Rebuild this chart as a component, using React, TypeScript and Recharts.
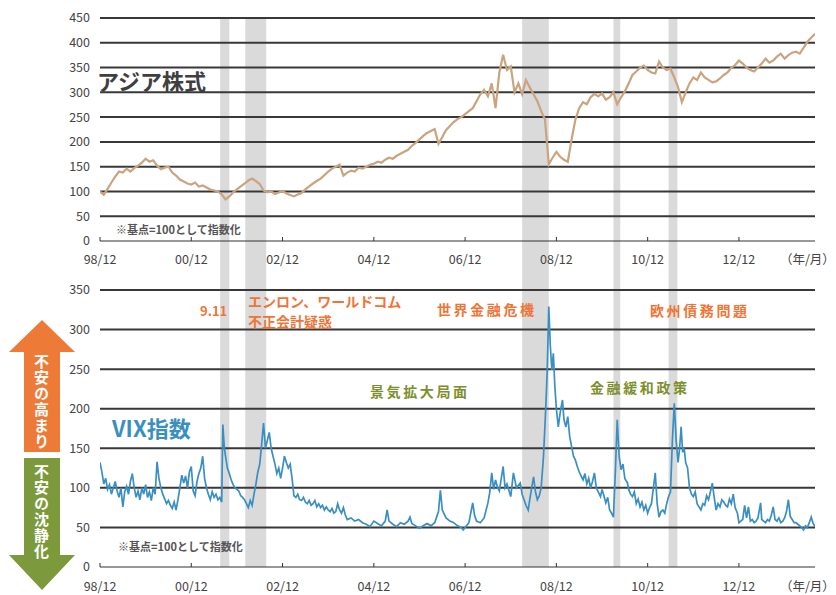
import React from 'react';
import { LineChart, Line, XAxis, YAxis, ReferenceArea, ReferenceLine } from 'recharts';

// months since 1998/12
const xTicks = [0, 24, 48, 72, 96, 120, 144, 168, 186];
const topYTicks = [0, 50, 100, 150, 200, 250, 300, 350, 400, 450];
const bottomYTicks = [0, 50, 100, 150, 200, 250, 300, 350];

// shaded event periods [start month, end month]
const eventBands: [number, number][] = [
  [31.6, 34],
  [38.2, 43.7],
  [111, 118],
  [135, 136.8],
  [149.5, 151.8],
];

// Asia equities, monthly from 1998/12 (index = month)
const asiaValues = [
  100, 93, 105, 118, 130, 140, 138, 146, 140, 147, 152, 158, 166, 160, 163, 152, 145, 148, 150, 138,
  132, 124, 120, 116, 114, 118, 110, 112, 108, 104, 102, 100, 94, 84, 90, 98, 104, 110, 116, 122,
  126, 121, 115, 102, 98, 100, 95, 98, 101, 96, 93, 90, 94, 97, 104, 110, 116, 121, 126, 133,
  140, 146, 150, 154, 132, 138, 142, 140, 148, 146, 150, 154, 156, 160, 158, 164, 168, 166, 172, 176,
  180, 184, 192, 198, 205, 212, 218, 222, 226, 196, 210, 224, 232, 240, 246, 250, 256, 262, 268, 282,
  296, 305, 292, 318, 268, 340, 376, 345, 352, 300, 318, 296, 325, 310, 296, 282, 262, 245, 155, 168,
  180, 170, 164, 160, 205, 245, 268, 280, 276, 290, 297, 292, 298, 285, 290, 300, 276, 290, 302, 318,
  335, 342, 350, 354, 345, 340, 338, 362, 350, 345, 348, 330, 310, 280, 300, 318, 330, 325, 340, 330,
  325, 320, 322, 328, 335, 340, 350, 355, 364, 358, 350, 345, 342, 350, 358, 368, 360, 364, 372, 378,
  368, 375, 380, 382, 378, 390, 402, 410, 418,
];

// VIX index (base = 100): [month since 1998/12, value]
const vixPoints: [number, number][] = [
  [0, 132], [0.5, 120], [1, 105], [1.5, 112], [2, 98], [2.5, 104], [3, 92], [3.5, 100], [4, 108], [4.5, 96],
  [5, 88], [5.5, 100], [6, 76], [6.5, 95], [7, 102], [7.5, 92], [8, 108], [8.5, 118], [9, 100], [9.5, 88],
  [10, 96], [10.5, 85], [11, 100], [11.5, 92], [12, 104], [12.5, 88], [13, 95], [13.5, 84], [14, 100], [14.5, 92],
  [15, 133], [15.5, 112], [16, 100], [16.5, 92], [17, 86], [17.5, 80], [18, 84], [18.5, 78], [19, 74], [19.5, 82],
  [20, 72], [20.5, 85], [21, 100], [21.5, 116], [22, 106], [22.5, 115], [23, 100], [23.5, 120], [24, 127], [24.5, 96],
  [25, 90], [25.5, 108], [26, 118], [26.5, 125], [27, 140], [27.5, 112], [28, 100], [28.5, 92], [29, 85], [29.5, 95],
  [30, 88], [30.5, 92], [31, 85], [31.5, 88], [32, 82], [32.3, 180], [32.7, 150], [33, 140], [33.5, 125], [34, 118],
  [34.5, 110], [35, 104], [35.5, 100], [36, 98], [36.5, 96], [37, 90], [37.5, 88], [38, 85], [38.5, 80], [39, 75],
  [39.5, 84], [40, 78], [40.5, 92], [41, 105], [41.5, 120], [42, 130], [42.5, 155], [43, 182], [43.5, 150], [44, 160],
  [44.5, 170], [45, 150], [45.5, 140], [46, 130], [46.5, 118], [47, 125], [47.5, 112], [48, 125], [48.5, 140], [49, 132],
  [49.5, 125], [50, 130], [50.5, 112], [51, 90], [51.5, 88], [52, 92], [52.5, 85], [53, 84], [53.5, 88], [54, 82],
  [54.5, 80], [55, 84], [55.5, 78], [56, 80], [56.5, 84], [57, 76], [57.5, 80], [58, 75], [58.5, 78], [59, 72],
  [59.5, 76], [60, 72], [60.5, 70], [61, 74], [61.5, 68], [62, 70], [62.5, 80], [63, 72], [63.5, 68], [64, 75],
  [64.5, 66], [65, 60], [66, 62], [67, 58], [68, 60], [69, 56], [70, 54], [71, 51], [72, 58], [73, 55],
  [74, 52], [75, 58], [75.5, 72], [76, 58], [77, 54], [78, 51], [79, 56], [80, 54], [81, 58], [81.5, 63],
  [82, 55], [83, 52], [84, 49], [85, 52], [86, 55], [87, 52], [88, 56], [88.5, 63], [89, 70], [89.5, 97],
  [90, 72], [91, 62], [92, 58], [93, 56], [94, 52], [95, 50], [95.5, 47], [96, 50], [97, 56], [98, 81],
  [98.5, 65], [99, 58], [100, 56], [101, 62], [102, 81], [102.5, 95], [103, 119], [103.5, 98], [104, 110], [104.5, 101],
  [105, 96], [106, 127], [106.5, 100], [107, 105], [108, 89], [108.7, 119], [109.5, 100], [110.5, 106], [111, 92], [111.5, 85],
  [112, 78], [112.6, 72], [113, 85], [113.5, 100], [114, 114], [114.5, 95], [115, 85], [115.5, 90], [116, 100], [116.6, 139],
  [117.2, 200], [117.6, 249], [118, 329], [118.4, 280], [118.8, 249], [119.2, 270], [119.6, 228], [120, 200], [120.5, 177], [121, 195],
  [121.6, 211], [122, 186], [122.5, 177], [123, 190], [123.5, 165], [124, 152], [124.5, 140], [125, 135], [125.5, 127], [126, 120],
  [126.5, 115], [127, 110], [127.5, 118], [128, 105], [128.5, 112], [129, 100], [129.5, 108], [130, 119], [130.5, 100], [131, 95],
  [131.6, 89], [132, 98], [132.5, 90], [133, 81], [133.5, 88], [134, 72], [134.5, 68], [135, 63], [135.5, 120], [136, 186],
  [136.5, 140], [137, 123], [137.5, 130], [138, 112], [138.7, 106], [139, 98], [139.5, 92], [140, 89], [140.5, 95], [141, 80],
  [141.5, 86], [142, 76], [142.5, 82], [143, 72], [143.5, 78], [144, 68], [144.5, 75], [145, 80], [145.5, 100], [146, 119],
  [146.5, 80], [147, 63], [147.5, 70], [148, 72], [148.5, 68], [149, 80], [149.5, 89], [150, 95], [150.5, 160], [151, 207],
  [151.5, 160], [152, 132], [152.4, 150], [152.8, 177], [153.2, 145], [153.6, 150], [154, 132], [154.5, 125], [155, 100], [155.5, 92],
  [156, 89], [156.5, 95], [157, 80], [157.5, 76], [158, 72], [158.5, 80], [159, 78], [159.5, 90], [160, 85], [160.5, 95],
  [161, 106], [161.5, 88], [162, 72], [162.5, 80], [163, 76], [163.5, 85], [164, 82], [164.5, 78], [165, 76], [165.5, 86],
  [166, 80], [166.5, 92], [167, 75], [167.6, 68], [168, 56], [168.5, 58], [169, 60], [169.5, 78], [170, 62], [170.5, 76],
  [171, 58], [171.5, 60], [172, 56], [172.5, 58], [173, 62], [173.7, 81], [174, 60], [174.5, 58], [175, 56], [175.5, 60],
  [176, 58], [176.5, 65], [177, 76], [177.5, 60], [178, 58], [178.5, 62], [179, 56], [179.5, 58], [180, 62], [180.5, 70],
  [181, 85], [181.5, 64], [182, 60], [182.5, 56], [183, 56], [183.5, 54], [184, 52], [184.5, 50], [185, 47], [185.5, 52],
  [186, 50], [186.5, 56], [187, 63], [187.5, 55], [188, 51],
];

const asiaData = asiaValues.map((v, i) => ({ m: i, v }));
const vixData = vixPoints.map(([m, v]) => ({ m, v }));

const FONT = '"Noto Sans CJK JP", "Noto Sans", sans-serif';
const GRID = '#383838';
const BAND = '#dadada';

const fmtTick = (m: number) => {
  if (m === 186) return '（年/月）';
  const y = (98 + Math.floor(m / 12)) % 100;
  return `${String(y).padStart(2, '0')}/12`;
};

const makeXTick = (margin: number) => (props: any) => {
  const { x, y, payload } = props;
  const isUnit = payload.value === 186;
  return (
    <g>
      {!isUnit && (
        <line x1={x} x2={x} y1={y - margin} y2={y - margin - 4} stroke="#333" strokeWidth={1} />
      )}
      <text x={x} y={y} dy="0.71em" textAnchor="middle" fontSize={12.5} fill="#444" fontFamily={FONT}>
        {fmtTick(payload.value)}
      </text>
    </g>
  );
};

const yTickStyle = { fontSize: 12.5, fill: '#444', fontFamily: FONT };

const abs = (left: number, top: number, extra: React.CSSProperties = {}): React.CSSProperties => ({
  position: 'absolute',
  left,
  top,
  whiteSpace: 'nowrap',
  lineHeight: 1,
  fontFamily: FONT,
  ...extra,
});

export default function App() {
  return (
    <div style={{ position: 'relative', width: 828, height: 587, background: '#fff' }}>
      <LineChart width={828} height={270} margin={{ top: 10, right: 21, bottom: 7, left: 0 }}>
        <XAxis
          dataKey="m"
          type="number"
          domain={[0, 188]}
          ticks={xTicks}
          interval={0}
          height={30}
          tickSize={0}
          tickMargin={14}
          tickLine={false}
          axisLine={{ stroke: '#333', strokeWidth: 1 }}
          tick={makeXTick(14)}
          allowDataOverflow
        />
        <YAxis
          type="number"
          domain={[0, 450]}
          ticks={topYTicks}
          interval={0}
          width={92}
          axisLine={false}
          tickLine={false}
          tickMargin={4}
          tick={yTickStyle}
        />
        {eventBands.map(([a, b], i) => (
          <ReferenceArea key={i} x1={a} x2={b} y1={-100} y2={450} fill={BAND} fillOpacity={1} stroke="none" ifOverflow="visible" />
        ))}
        {topYTicks.filter((t) => t > 0).map((t) => (
          <ReferenceLine key={t} y={t} stroke={GRID} strokeWidth={2} />
        ))}
        <Line data={asiaData} dataKey="v" stroke="#c9a47f" strokeWidth={2.2} dot={false} isAnimationActive={false} type="linear" />
      </LineChart>
      <LineChart width={828} height={317} margin={{ top: 12, right: 21, bottom: 6, left: 0 }}>
        <XAxis
          dataKey="m"
          type="number"
          domain={[0, 188]}
          ticks={xTicks}
          interval={0}
          height={22}
          tickSize={0}
          tickMargin={15}
          tickLine={false}
          axisLine={{ stroke: '#333', strokeWidth: 1 }}
          tick={makeXTick(15)}
          allowDataOverflow
        />
        <YAxis
          type="number"
          domain={[0, 350]}
          ticks={bottomYTicks}
          interval={0}
          width={92}
          axisLine={false}
          tickLine={false}
          tickMargin={4}
          tick={yTickStyle}
        />
        {eventBands.map(([a, b], i) => (
          <ReferenceArea key={i} x1={a} x2={b} y1={0} y2={400} fill={BAND} fillOpacity={1} stroke="none" ifOverflow="visible" />
        ))}
        {bottomYTicks.filter((t) => t > 0).map((t) => (
          <ReferenceLine key={t} y={t} stroke={GRID} strokeWidth={2} />
        ))}
        <Line data={vixData} dataKey="v" stroke="#3a8fc2" strokeWidth={1.7} dot={false} isAnimationActive={false} type="linear" />
      </LineChart>

      {/* arrows */}
      <svg width={80} height={587} style={{ position: 'absolute', left: 0, top: 0 }}>
        <polygon points="34,312 67,344 52,344 52,444 16,444 16,344 1,344" fill="#ee7a38" />
        <polygon points="16,450 52,450 52,547 67,547 34,582 1,547 16,547" fill="#7c9a3c" />
      </svg>
      <div style={abs(26, 346, { writingMode: 'vertical-rl', color: '#fff', fontSize: 15, fontWeight: 700, letterSpacing: 1 })}>不安の高まり</div>
      <div style={abs(26, 456, { writingMode: 'vertical-rl', color: '#fff', fontSize: 15, fontWeight: 700, letterSpacing: 1 })}>不安の沈静化</div>

      {/* annotations */}
      <div style={abs(89, 61, { fontSize: 22, fontWeight: 700, color: '#3f3f3f' })}>アジア株式</div>
      <div style={abs(108, 216, { fontSize: 11, fontWeight: 700, color: '#555' })}>※基点=100として指数化</div>
      <div style={abs(192, 296, { fontSize: 13, fontWeight: 700, color: '#ef7436' })}>9.11</div>
      <div style={abs(240, 283, { fontSize: 14, fontWeight: 700, color: '#ef7436', lineHeight: '20px' })}>
        エンロン、ワールドコム
        <br />
        不正会計疑惑
      </div>
      <div style={abs(429, 294, { fontSize: 14, fontWeight: 700, color: '#ef7436', letterSpacing: 2.6 })}>世界金融危機</div>
      <div style={abs(642, 295, { fontSize: 14, fontWeight: 700, color: '#ef7436', letterSpacing: 2.6 })}>欧州債務問題</div>
      <div style={abs(362, 376, { fontSize: 14, fontWeight: 700, color: '#7d8f2e', letterSpacing: 2.6 })}>景気拡大局面</div>
      <div style={abs(582, 372, { fontSize: 14, fontWeight: 700, color: '#7d8f2e', letterSpacing: 2.6 })}>金融緩和政策</div>
      <div style={abs(104, 408, { fontSize: 22, fontWeight: 700, color: '#3a8fc2' })}>VIX指数</div>
      <div style={abs(110, 533, { fontSize: 11, fontWeight: 700, color: '#555' })}>※基点=100として指数化</div>
    </div>
  );
}
